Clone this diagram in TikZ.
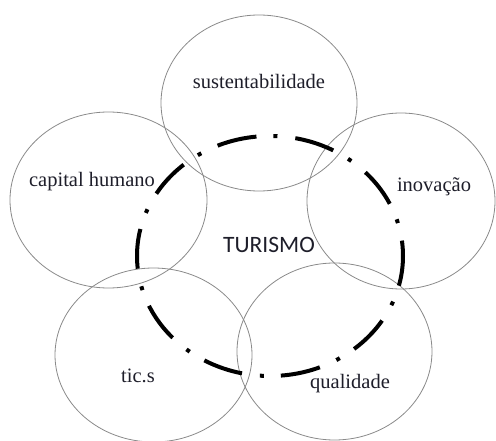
\documentclass[tikz,border=0pt]{standalone}
\usepackage{fontspec}
\setmainfont{Liberation Serif}
\newfontfamily\labelsans{Carlito}
\usetikzlibrary{shapes.geometric}
\definecolor{ringgray}{HTML}{8A8A8A}
\definecolor{inktext}{HTML}{1E1E2A}
\begin{document}
\begin{tikzpicture}[x=1pt,y=-1pt,
  ring/.style={draw=ringgray,line width=0.8pt,ellipse,inner sep=0pt},
  word/.style={text=inktext,inner sep=0pt,font=\fontsize{20.5}{20.5}\selectfont},
  core/.style={draw=black,line width=4pt,line cap=butt,
    dash pattern=on 40pt off 17pt on 4pt off 18pt,dash phase=10pt}]
\useasboundingbox (0,0) rectangle (496,441);
% five overlapping themes
\node[ring,minimum width=196pt,minimum height=176pt] (sus) at (259,103) {};
\node[ring,minimum width=197pt,minimum height=176pt] (cap) at (108.5,200) {};
\node[ring,minimum width=188pt,minimum height=176pt] (ino) at (401,201) {};
\node[ring,minimum width=197pt,minimum height=174pt] (tic) at (153.5,355) {};
\node[ring,minimum width=195pt,minimum height=177pt] (qua) at (334.5,351.5) {};
% central dash-dot ring
\draw[core] (270,256) ellipse [x radius=133, y radius=120];
% labels
\node[word] (tsus) at (259,81) {sustentabilidade};
\node[word] (tcap) at (92,182) {capital humano};
\node[word] (tino) at (434,187) {inovação};
\node[word] (ttic) at (138,376) {tic.s};
\node[word] (tqua) at (350,384) {qualidade};
\node[text=inktext,inner sep=0pt,font=\labelsans\fontsize{23.5}{23.5}\selectfont] (tur) at (269,245) {TURISMO};
\end{tikzpicture}
\end{document}
